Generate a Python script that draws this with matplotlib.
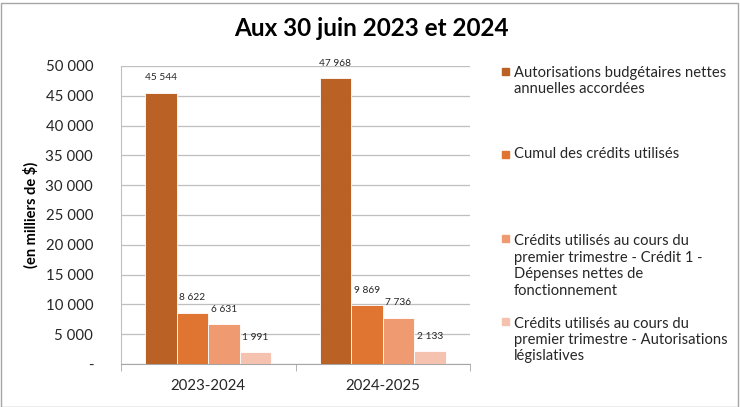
import matplotlib
matplotlib.use("Agg")
import matplotlib.pyplot as plt
import numpy as np

categories = ["2023-2024", "2024-2025"]
series_names = [
    "Autorisations budgétaires nettes\nannuelles accordées",
    "Cumul des crédits utilisés",
    "Crédits utilisés au cours du\npremier trimestre - Crédit 1 -\nDépenses nettes de\nfonctionnement",
    "Crédits utilisés au cours du\npremier trimestre - Autorisations\nlégislatives",
]
values = [
    [45544, 47968],
    [8622, 9869],
    [6631, 7736],
    [1991, 2133],
]
colors = ["#BA6125", "#DF7530", "#F09A72", "#F6C2B0"]
yticks = [0, 5000, 10000, 15000, 20000, 25000, 30000, 35000, 40000, 45000, 50000]

def fmt(v):
    return "-" if v == 0 else f"{v:,}".replace(",", " ")

plt.rcParams['font.family'] = ['Lato', 'DejaVu Sans']

fig = plt.figure(figsize=(7.4, 4.07), dpi=100)
W, H = 740, 407
ax = fig.add_axes([121 / W, 1 - 364 / H, (470 - 121) / W, (364 - 66) / H])

x = np.arange(len(categories))
bw = 0.181
for i, (vals, c) in enumerate(zip(values, colors)):
    pos = x + (i - 1.5) * bw
    ax.bar(pos, vals, width=bw, color=c, edgecolor="white", linewidth=0.6, zorder=3)
    for p, v in zip(pos, vals):
        ax.annotate(fmt(v), (p, v), xytext=(0, 7.5), textcoords="offset points",
                    ha="center", va="bottom", fontsize=7.3, color="#262626")

ax.set_xlim(-0.5, 1.5)
ax.set_ylim(0, 50000)
ax.set_yticks(yticks)
ax.set_yticklabels([fmt(v) for v in yticks], fontsize=10.8, color="#262626")
ax.set_xticks(x)
ax.set_xticklabels(categories, fontsize=10.8, color="#262626")
ax.set_xticks([-0.5, 0.5, 1.5], minor=True)
ax.tick_params(axis="x", which="major", length=0, pad=11)
ax.tick_params(axis="x", which="minor", length=5, color="#A6A6A6")
ax.tick_params(axis="y", length=0, pad=20)
ax.grid(axis="y", color="#BFBFBF", linewidth=0.9, zorder=0)
for s in ["top", "right"]:
    ax.spines[s].set_visible(False)
ax.spines["left"].set_color("#BFBFBF")
ax.spines["bottom"].set_color("#A6A6A6")

fig.text(31 / W, 1 - 215 / H, "(en milliers de $)", rotation=90, ha="center", va="center",
         fontsize=10.5, fontweight="bold", color="#000000")

fig.text(371 / W, 1 - 28 / H, "Aux 30 juin 2023 et 2024", ha="center", va="center",
         fontsize=17.5, fontweight="bold", color="#000000")

# legend
ly = [81, 154, 266, 340]
lsp = 18.5
for name, c, yy in zip(series_names, colors, ly):
    nlines = name.count("\n") + 1
    top = yy - (nlines - 1) * lsp / 2
    fig.patches.append(plt.Rectangle((502 / W, 1 - (top + 3.5) / H), 7 / W, 7 / H,
                                     transform=fig.transFigure, color=c, figure=fig))
    fig.text(514 / W, 1 - yy / H, name, ha="left", va="center", fontsize=10.6,
             color="#262626", linespacing=1.22)

# figure border
fig.patches.append(plt.Rectangle((0.5 / W, 0.5 / H), (W - 3) / W, (H - 3) / H, fill=False,
                                 edgecolor="#A6A6A6", linewidth=1, transform=fig.transFigure, figure=fig))

fig.savefig("out.png", dpi=100)
